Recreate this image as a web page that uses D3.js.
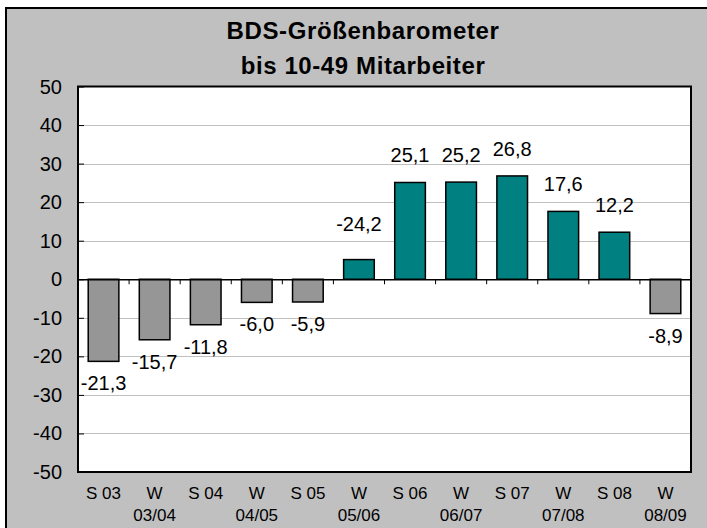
<!DOCTYPE html>
<html>
<head>
<meta charset="utf-8">
<script src="https://cdn.jsdelivr.net/npm/d3@7"></script>
<style>
  body { margin: 0; background: #fff; }
  svg text { font-family: "Liberation Sans", Arial, sans-serif; fill: #000; }
</style>
</head>
<body>
<div id="chart"></div>
<script>
(function() {
  var width = 707,
      height = 528;

  // chart data
  var categories = ["S03", "W03/04", "S04", "W04/05", "S05", "W05/06", "S06", "W06/07", "S07", "W07/08", "S08", "W08/09"];
  var tickLine1 = ["S 03", "W", "S 04", "W", "S 05", "W", "S 06", "W", "S 07", "W", "S 08", "W"];
  var tickLine2 = ["", "03/04", "", "04/05", "", "05/06", "", "06/07", "", "07/08", "", "08/09"];
  var values = [-21.3, -15.7, -11.8, -6.0, -5.9, 5.1, 25.1, 25.2, 26.8, 17.6, 12.2, -8.9];
  var labels = ["-21,3", "-15,7", "-11,8", "-6,0", "-5,9", "-24,2", "25,1", "25,2", "26,8", "17,6", "12,2", "-8,9"];
  var yTicks = [50, 40, 30, 20, 10, 0, -10, -20, -30, -40, -50];

  var plot = {left: 78, right: 691, top: 86.5, bottom: 472};

  var svg = d3.select("#chart")
      .append("svg")
      .attr("width", width)
      .attr("height", height);

  // outer chart area
  svg.append("rect")
      .attr("x", 6)
      .attr("y", 8)
      .attr("width", width + 10)
      .attr("height", height + 10)
      .attr("fill", "#c0c0c0")
      .attr("stroke", "#000")
      .attr("stroke-width", 2);

  var x = d3.scaleBand()
      .domain(categories)
      .range([plot.left, plot.right])
      .paddingInner(0.4)
      .paddingOuter(0.2);

  var y = d3.scaleLinear()
      .domain([-50, 50])
      .range([plot.bottom, plot.top]);

  svg.append("rect")
      .attr("x", plot.left)
      .attr("y", plot.top)
      .attr("width", plot.right - plot.left)
      .attr("height", plot.bottom - plot.top)
      .attr("fill", "#fff");

  // gridlines
  svg.selectAll(".grid")
      .data(yTicks.filter(function(d) { return d !== 0 && Math.abs(d) !== 50; }))
      .enter().append("line")
      .attr("class", "grid")
      .attr("x1", plot.left)
      .attr("x2", plot.right)
      .attr("y1", function(d) { return Math.round(y(d)) + 0.5; })
      .attr("y2", function(d) { return Math.round(y(d)) + 0.5; })
      .attr("stroke", "#c0c0c0")
      .attr("stroke-width", 1);

  // y axis (ticks inside)
  var yAxis = svg.append("g")
      .attr("transform", "translate(" + plot.left + ",0)")
      .call(d3.axisRight(y).tickValues(yTicks).tickSize(6).tickFormat(""));
  yAxis.select(".domain").remove();
  yAxis.selectAll("line").attr("stroke", "#000");

  svg.selectAll(".ylabel")
      .data(yTicks)
      .enter().append("text")
      .attr("class", "ylabel")
      .attr("x", 62)
      .attr("y", function(d) { return y(d); })
      .attr("dy", "0.35em")
      .attr("text-anchor", "end")
      .style("font-size", "20px")
      .text(function(d) { return d; });

  // bars
  svg.selectAll(".bar")
      .data(values)
      .enter().append("rect")
      .attr("class", "bar")
      .attr("x", function(d, i) { return x(categories[i]); })
      .attr("width", x.bandwidth())
      .attr("y", function(d) { return y(Math.max(0, d)); })
      .attr("height", function(d) { return Math.abs(y(d) - y(0)); })
      .attr("fill", function(d) { return d < 0 ? "#969696" : "#008080"; })
      .attr("stroke", "#000")
      .attr("stroke-width", 1.5);

  // zero line with category ticks
  var xAxis = svg.append("g")
      .attr("transform", "translate(0," + y(0) + ")")
      .call(d3.axisBottom(x).tickSize(0).tickFormat(""));
  xAxis.select(".domain").attr("stroke", "#000").attr("stroke-width", 1.5);

  var bounds = d3.range(categories.length + 1).map(function(i) {
    return plot.left + i * x.step();
  });
  svg.selectAll(".xtick")
      .data(bounds)
      .enter().append("line")
      .attr("class", "xtick")
      .attr("x1", function(d) { return d; })
      .attr("x2", function(d) { return d; })
      .attr("y1", y(0))
      .attr("y2", y(0) + 5)
      .attr("stroke", "#000")
      .attr("stroke-width", 1);

  // plot border
  svg.append("rect")
      .attr("x", plot.left)
      .attr("y", plot.top)
      .attr("width", plot.right - plot.left)
      .attr("height", plot.bottom - plot.top)
      .attr("fill", "none")
      .attr("stroke", "#000")
      .attr("stroke-width", 2);

  // data labels
  svg.selectAll(".dlabel")
      .data(values)
      .enter().append("text")
      .attr("class", "dlabel")
      .attr("x", function(d, i) { return x(categories[i]) + x.bandwidth() / 2; })
      .attr("y", function(d, i) {
        if (d >= 0) return y(d) - (i === 5 ? 29 : 20);
        return y(d) + 29;
      })
      .attr("text-anchor", "middle")
      .style("font-size", "20px")
      .text(function(d, i) { return labels[i]; });

  // category labels
  svg.selectAll(".xl1")
      .data(tickLine1)
      .enter().append("text")
      .attr("class", "xl1")
      .attr("x", function(d, i) { return x(categories[i]) + x.bandwidth() / 2; })
      .attr("y", 499)
      .attr("text-anchor", "middle")
      .style("font-size", "17px")
      .text(function(d) { return d; });

  svg.selectAll(".xl2")
      .data(tickLine2)
      .enter().append("text")
      .attr("class", "xl2")
      .attr("x", function(d, i) { return x(categories[i]) + x.bandwidth() / 2; })
      .attr("y", 521)
      .attr("text-anchor", "middle")
      .style("font-size", "17px")
      .text(function(d) { return d; });

  // title
  var title = svg.append("text")
      .attr("x", 363)
      .attr("text-anchor", "middle")
      .style("font-size", "24px")
      .style("font-weight", "bold")
      .style("letter-spacing", "0.6px");
  title.append("tspan").attr("x", 363).attr("y", 39).text("BDS-Größenbarometer");
  title.append("tspan").attr("x", 363).attr("y", 74).text("bis 10-49 Mitarbeiter");

})();
</script>
</body>
</html>
